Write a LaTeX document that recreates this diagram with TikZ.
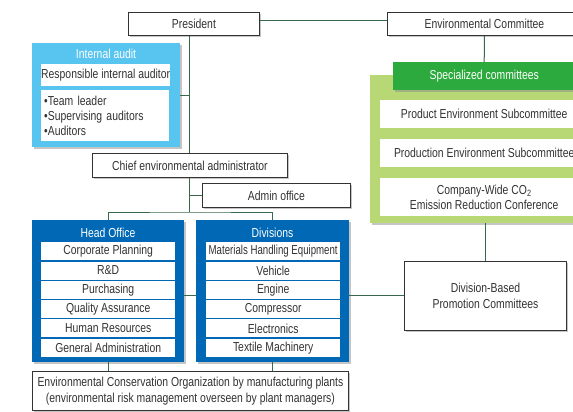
\documentclass[tikz,border=0pt]{standalone}
\usepackage{fontspec}
\setmainfont{Liberation Sans}[FakeStretch=0.8]
\usetikzlibrary{positioning, shadows, calc}
\definecolor{LineGreen}{RGB}{58,104,74}
\definecolor{AuditBlue}{RGB}{88,196,240}
\definecolor{UnitBlue}{RGB}{0,104,180}
\definecolor{LeafGreen}{RGB}{184,216,118}
\definecolor{HeadGreen}{RGB}{44,170,62}
\definecolor{TextGray}{RGB}{50,50,50}

\begin{document}
\begin{tikzpicture}[x=1pt, y=-1pt, font=\fontsize{13}{15.5}\selectfont,
	shd/.style={drop shadow={shadow xshift=1.6pt, shadow yshift=-1.6pt, fill=black!45}},
	box/.style={draw=black!80, line width=0.9pt, fill=white, text=TextGray, inner sep=0pt, anchor=north west, shd},
	row/.style={fill=white, text=TextGray, inner sep=0pt, anchor=north west},
	panel/.style={inner sep=0pt, anchor=north west, shd},
	link/.style={draw=LineGreen, line width=1pt}]
	\useasboundingbox (0,0) rectangle (573,412);
	\clip (0,0) rectangle (573,412);
	% top level
	\node[box, minimum width=131, minimum height=23] (president) at (128,12) {President};
	\node[box, minimum width=194, minimum height=23] (envcomm) at (387,12) {Environmental Committee};
	% internal audit
	\node[panel, fill=AuditBlue, minimum width=148, minimum height=104] (audit) at (32,43) {};
	\node[text=white] at (106,54) {Internal audit};
	\node[row, minimum width=128, minimum height=22] (auditor) at (41,64) {Responsible internal auditor};
	\node[row, minimum width=128, minimum height=51, text width=122, align=left,
		font=\fontsize{13}{15}\selectfont] (staff) at (41,90)
		{\textbullet Team leader\\ \textbullet Supervising auditors\\ \textbullet Auditors};
	% chief and admin office
	\node[box, minimum width=195, minimum height=24] (chief) at (92,153) {Chief environmental administrator};
	\node[box, minimum width=148, minimum height=24] (admin) at (202,183) {Admin office};
	% head office
	\node[panel, fill=UnitBlue, minimum width=152, minimum height=142] (head) at (32,220) {};
	\node[text=white] at (108,233) {Head Office};
	\foreach \t [count=\i from 0] in {Corporate Planning, R\&D, Purchasing,
		Quality Assurance, Human Resources, General Administration}
		{\node[row, minimum width=134, minimum height=18] (h\i) at (41,{242+19.3*\i}) {\t};}
	% divisions (first one squeezed to fit)
	\node[panel, fill=UnitBlue, minimum width=153, minimum height=142] (div) at (196,220) {};
	\node[text=white] at (272.5,233) {Divisions};
	\foreach \t/\s [count=\i from 0] in {Materials Handling Equipment/0.93, Vehicle/1, Engine/1,
		Compressor/1, Electronics/1, Textile Machinery/1}
		{\node[row, minimum width=134, minimum height=18] (d\i) at (206,{242+19.3*\i}) {\scalebox{\s}[1]{\t}};}
	% specialized committees
	\node[panel, fill=LeafGreen, minimum width=228, minimum height=148] (green) at (370,75) {};
	\node[panel, fill=HeadGreen, text=white, minimum width=182, minimum height=28] (spec) at (393,62) {Specialized committees};
	\node[row, minimum width=208, minimum height=28] (sub1) at (380,100) {Product Environment Subcommittee};
	\node[row, minimum width=208, minimum height=28] (sub2) at (380,139) {Production Environment Subcommittee};
	\node[row, minimum width=208, minimum height=38, align=center] (sub3) at (380,178)
		{Company-Wide CO\textsubscript{2}\\ Emission Reduction Conference};
	% promotion committees and plants
	\node[box, minimum width=162, minimum height=69, align=center,
		font=\fontsize{13}{16.5}\selectfont] (divbased) at (404,261)
		{Division-Based\\ Promotion Committees};
	\node[box, minimum width=316, minimum height=39, align=center] (plants) at (32,371)
		{Environmental Conservation Organization by manufacturing plants\\
		 (environmental risk management overseen by plant managers)};
	% connectors
	\coordinate (bus) at (chief.south |- 0,212);
	\draw[link] ([yshift=3.5pt]president.east) -- ([yshift=3.5pt]envcomm.west);
	\draw[link] (chief.north) -- (chief.north |- president.south);
	\draw[link] (audit.east) -- (audit.east -| chief.north);
	\draw[link] (admin.west) -- (admin.west -| chief.south);
	\draw[link] (chief.south) -- (bus);
	\draw[link] (head.north) |- (bus) -| (div.north);
	\draw[link] (head.east |- divbased.west) -- (div.west |- divbased.west);
	\draw[link] (div.east |- divbased.west) -- (divbased.west);
	\draw[link] (head.south) -- (head.south |- plants.north);
	\draw[link] (div.south) -- (div.south |- plants.north);
	\draw[link] (envcomm.south) -- (spec.north);
	\draw[link] (divbased.north) -- (divbased.north |- green.south);
\end{tikzpicture}
\end{document}
